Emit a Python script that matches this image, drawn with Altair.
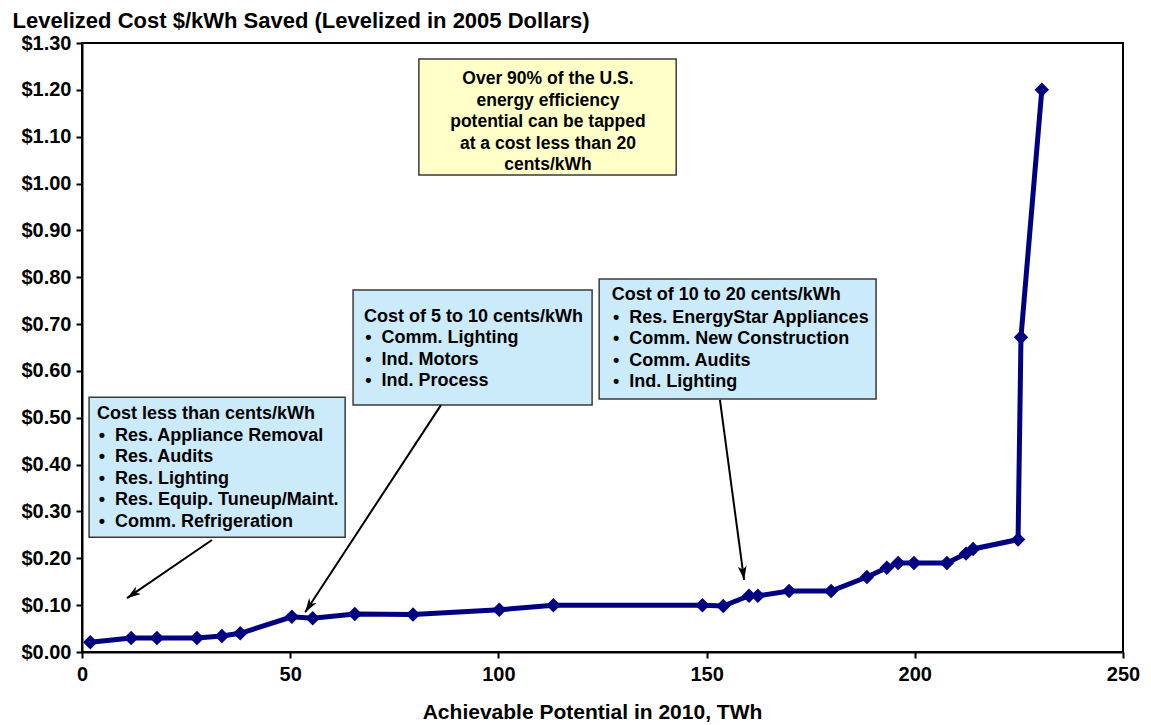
import math
import altair as alt
import pandas as pd

# ---------------- data ----------------
potential_twh = [2, 11.8, 18, 27.6, 33.6, 38, 50.4, 55.4, 65.5, 79.5, 100.2, 113.2,
                 149, 154, 160.2, 162.3, 169.8, 179.9, 188.5, 193.3, 196, 199.8,
                 207.7, 212.3, 214, 224.8, 225.5, 230.5]
cost_per_kwh = [0.021, 0.03, 0.03, 0.03, 0.034, 0.04, 0.075, 0.072, 0.081, 0.08, 0.09, 0.10,
                0.10, 0.098, 0.12, 0.12, 0.13, 0.13, 0.16, 0.18, 0.19, 0.19,
                0.19, 0.21, 0.22, 0.24, 0.672, 1.20]

x_ticks = [0, 50, 100, 150, 200, 250]
y_ticks = [0.0, 0.1, 0.2, 0.3, 0.4, 0.5, 0.6, 0.7, 0.8, 0.9, 1.0, 1.1, 1.2, 1.3]

chart_title = "Levelized Cost $/kWh Saved (Levelized in 2005 Dollars)"
x_title = "Achievable Potential in 2010, TWh"

box1_title = "Cost less than cents/kWh"
box1_items = ["Res. Appliance Removal", "Res. Audits", "Res. Lighting",
              "Res. Equip. Tuneup/Maint.", "Comm. Refrigeration"]
box2_title = "Cost of 5 to 10 cents/kWh"
box2_items = ["Comm. Lighting", "Ind. Motors", "Ind. Process"]
box3_title = "Cost of 10 to 20 cents/kWh"
box3_items = ["Res. EnergyStar Appliances", "Comm. New Construction",
              "Comm. Audits", "Ind. Lighting"]
note_lines = ["Over 90% of the U.S.", "energy efficiency", "potential can be tapped",
              "at a cost less than 20", "cents/kWh"]

# ---------------- layout (annotation placement, in data units) ----------------
W, H = 1041, 609
X_MAX, Y_MAX = 250, 1.3
PX_X = W / X_MAX
PX_Y = H / Y_MAX
LINE = 21.6 / PX_Y  # line spacing in data units

BLUE = "#CCEBFA"
YELLOW = "#FFFFC8"
NAVY = "#000080"
FONT = "Liberation Sans"
BULLET = "\u2022\u00a0\u00a0"

boxes = pd.DataFrame([
    dict(x=1.7, x2=63.2, y=0.544, y2=0.245, fill=BLUE),
    dict(x=65.1, x2=122.5, y=0.773, y2=0.527, fill=BLUE),
    dict(x=124.2, x2=190.7, y=0.796, y2=0.540, fill=BLUE),
    dict(x=80.9, x2=142.7, y=1.266, y2=1.018, fill=YELLOW),
])

left_rows = []
def add_block(title, items, tx, ty, ix, iy):
    left_rows.append(dict(x=tx, y=ty, text=title))
    for i, it in enumerate(items):
        left_rows.append(dict(x=ix, y=iy - i * LINE, text=BULLET + it))

add_block(box1_title, box1_items, 3.6, 0.507, 4.0, 0.462)
add_block(box2_title, box2_items, 67.7, 0.715, 68.0, 0.670)
add_block(box3_title, box3_items, 127.2, 0.762, 127.5, 0.714)
left_text = pd.DataFrame(left_rows)

center_text = pd.DataFrame([
    dict(x=111.9, y=1.223 - i * LINE, text=t) for i, t in enumerate(note_lines)
])

arrows = pd.DataFrame([
    dict(x=31.2, y=0.239, x2=10.8, y2=0.115),
    dict(x=86.2, y=0.527, x2=53.6, y2=0.085),
    dict(x=153.2, y=0.538, x2=159.0, y2=0.154),
])
arrows["angle"] = [
    (math.degrees(math.atan2((r.x2 - r.x) * PX_X, (r.y2 - r.y) * PX_Y)) + 360) % 360
    for r in arrows.itertuples()
]

series = pd.DataFrame({"x": potential_twh, "y": cost_per_kwh})

# ---------------- chart ----------------
xscale = alt.Scale(domain=[0, X_MAX], nice=False, zero=False)
yscale = alt.Scale(domain=[0, Y_MAX], nice=False, zero=False)

x_axis = alt.Axis(values=x_ticks, title=x_title, grid=False, format="d",
                  labelFont=FONT, labelFontSize=20, labelFontWeight="bold",
                  labelColor="black", labelPadding=6, labelFlush=False,
                  tickSize=6, tickWidth=2,
                  tickColor="black", domainColor="black", domainWidth=2,
                  titleFont=FONT, titleFontSize=21, titleFontWeight="bold",
                  titleColor="black", titleX=510, titleY=60,
                  titleBaseline="middle", titleAlign="center")
y_axis = alt.Axis(values=y_ticks, title=chart_title, grid=False, format="$.2f",
                  labelFont=FONT, labelFontSize=20, labelFontWeight="bold",
                  labelColor="black", labelPadding=5, labelFlush=False,
                  tickSize=6, tickWidth=2,
                  tickColor="black", domainColor="black", domainWidth=2,
                  titleFont=FONT, titleFontSize=22, titleFontWeight="bold",
                  titleColor="black", titleAngle=0, titleAlign="left",
                  titleBaseline="middle", titleX=-70, titleY=-23)

rects = alt.Chart(boxes).mark_rect(stroke="#3a3a3a", strokeWidth=1.5).encode(
    x=alt.X("x:Q", scale=xscale, axis=x_axis),
    x2="x2:Q",
    y=alt.Y("y:Q", scale=yscale, axis=y_axis),
    y2="y2:Q",
    fill=alt.Fill("fill:N", scale=None),
)

ltext = alt.Chart(left_text).mark_text(
    align="left", baseline="middle", font=FONT, fontSize=18, fontWeight="bold", color="black"
).encode(x=alt.X("x:Q", scale=xscale), y=alt.Y("y:Q", scale=yscale), text="text:N")

ctext = alt.Chart(center_text).mark_text(
    align="center", baseline="middle", font=FONT, fontSize=17.5, fontWeight="bold", color="black"
).encode(x=alt.X("x:Q", scale=xscale), y=alt.Y("y:Q", scale=yscale), text="text:N")

arrow_lines = alt.Chart(arrows).mark_rule(color="black", strokeWidth=2).encode(
    x=alt.X("x:Q", scale=xscale), y=alt.Y("y:Q", scale=yscale), x2="x2:Q", y2="y2:Q"
)
arrow_heads = alt.Chart(arrows).mark_point(
    shape="M0,0L-0.7,2.2L0,1.6L0.7,2.2Z", size=160, filled=True, color="black", opacity=1
).encode(
    x=alt.X("x2:Q", scale=xscale), y=alt.Y("y2:Q", scale=yscale),
    angle=alt.Angle("angle:Q", scale=None),
)

line = alt.Chart(series).mark_line(
    color=NAVY, strokeWidth=5, interpolate="linear",
    point=alt.OverlayMarkDef(shape="diamond", size=210, filled=True, color=NAVY, opacity=1),
).encode(x=alt.X("x:Q", scale=xscale), y=alt.Y("y:Q", scale=yscale))

chart = alt.layer(rects, ltext, ctext, arrow_lines, arrow_heads, line).properties(
    width=W, height=H,
    autosize=alt.AutoSizeParams(type="none"),
    padding={"left": 74, "top": 35, "right": 20, "bottom": 70},
    background="white",
).configure_view(stroke="black", strokeWidth=2)

chart.save("out.html", embed_options={"renderer": "svg", "actions": False})
